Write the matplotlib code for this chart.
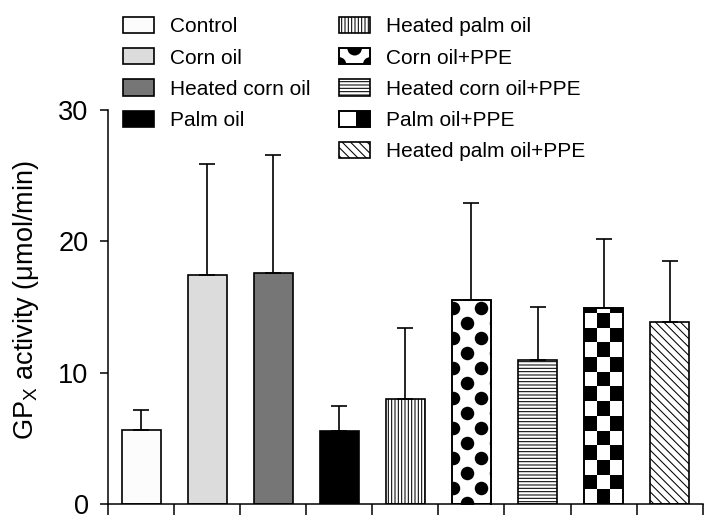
import numpy as np
import matplotlib
matplotlib.use("Agg")
import matplotlib.pyplot as plt
from matplotlib.patches import Rectangle, Circle
from matplotlib.legend_handler import HandlerPatch

plt.rcParams['font.family'] = ['Liberation Sans', 'DejaVu Sans']
plt.rcParams['mathtext.fontset'] = 'custom'
plt.rcParams['mathtext.rm'] = 'Liberation Sans'
plt.rcParams['mathtext.it'] = 'Liberation Sans:italic'
plt.rcParams['hatch.linewidth'] = 0.75

# ---------------- data ----------------
groups = ["Control", "Corn oil", "Heated corn oil", "Palm oil", "Heated palm oil",
          "Corn oil+PPE", "Heated corn oil+PPE", "Palm oil+PPE", "Heated palm oil+PPE"]
means = [5.64, 17.44, 17.57, 5.56, 7.97, 15.55, 10.94, 14.95, 13.84]
errors = [1.52, 8.46, 9.03, 1.93, 5.46, 7.35, 4.06, 5.21, 4.69]
y_ticks = [0, 10, 20, 30]

# ---------------- styles ----------------
face = ['#fcfcfc', '#dcdcdc', '#767676', '#000000', 'white', 'white', 'white', 'white', 'white']
hatches = [None, None, None, None, '|||||', None, '-----', None, '\\\\\\\\']
special = [None, None, None, None, None, 'dots', None, 'checker', None]

fig = plt.figure(figsize=(7.19, 5.30), dpi=100)
ax = fig.add_axes([108/719, 26/530, 594.7/719, 394/530])

x = np.arange(len(groups))
bw = 0.59
bars = ax.bar(x, means, width=bw, color=face, edgecolor='black', linewidth=1.2,
              yerr=[np.zeros(len(errors)), errors], capsize=5.5,
              error_kw=dict(elinewidth=1.2, capthick=1.2, ecolor='black'), zorder=2)
for b, h in zip(bars, hatches):
    if h:
        b.set_hatch(h)

ax.set_xlim(-0.5, len(groups) - 0.5)
ax.set_ylim(0, 30)

# pixel -> data conversion helpers
px_x = 594.7 / len(groups)   # pixels per x unit
px_y = 394 / 30.0            # pixels per y unit

for b, sp in zip(bars, special):
    if sp is None:
        continue
    x0 = b.get_x(); w = b.get_width(); h = b.get_height()
    if sp == 'dots':
        row_h = 15 / px_y
        per = 28.6 / px_x
        xs, ys = [], []
        k = 0
        yy = 1.0 / px_y
        while yy < h + row_h:
            off = 15 / px_x if k % 2 == 0 else 0.7 / px_x
            xx = x0 + off
            while xx < x0 + w + per:
                xs.append(xx); ys.append(yy)
                xx += per
            yy += row_h
            k += 1
        sc = ax.scatter(xs, ys, s=(13.5 * 0.72) ** 2, c='black', marker='o',
                        linewidths=0, zorder=2.5)
        sc.set_clip_path(b)
    elif sp == 'checker':
        cw = w / 3
        ch = 14.7 / px_y
        nrows = int(np.ceil(h / ch))
        for r in range(nrows):
            for c in range(3):
                if (r + c) % 2 == 1:
                    rect = Rectangle((x0 + c * cw, r * ch), cw, ch, facecolor='black',
                                     edgecolor='none', zorder=2.5)
                    ax.add_patch(rect)
                    rect.set_clip_path(b)
    # redraw outline on top
    ax.add_patch(Rectangle((x0, 0), w, h, facecolor='none', edgecolor='black',
                           linewidth=1.2, zorder=2.6))

# axes styling
for s in ['top', 'right']:
    ax.spines[s].set_visible(False)
for s in ['left', 'bottom']:
    ax.spines[s].set_linewidth(1.1)
ax.set_yticks(y_ticks)
ax.tick_params(axis='y', direction='out', length=6, width=1.1, pad=8, labelsize=19.5)
ax.set_xticks(np.arange(-0.5, len(groups), 1.0))
ax.tick_params(axis='x', direction='out', length=8, width=1.1, labelbottom=False)
ax.set_ylabel('GP$_{\\mathrm{X}}$ activity (\u03bcmol/min)', fontsize=19.5)
ax.yaxis.set_label_coords(-0.112, 0.518)


# ---------------- legend handlers ----------------
class DotHandler(HandlerPatch):
    def legend_artist(self, legend, orig_handle, fontsize, handlebox):
        x0, y0 = -handlebox.xdescent, -handlebox.ydescent
        w, h = handlebox.width, handlebox.height
        tr = handlebox.get_transform()
        rect = Rectangle((x0, y0), w, h, facecolor='white', edgecolor='black',
                         linewidth=1.2, transform=tr)
        handlebox.add_artist(rect)
        r = h * 0.45
        for cx, cy in [(x0 + w / 2, y0 + h), (x0, y0), (x0 + w, y0)]:
            c = Circle((cx, cy), r, facecolor='black', edgecolor='none', transform=tr)
            c.set_clip_path(rect)
            handlebox.add_artist(c)
        edge = Rectangle((x0, y0), w, h, facecolor='none', edgecolor='black',
                         linewidth=1.2, transform=tr)
        handlebox.add_artist(edge)
        return rect


class CheckerHandler(HandlerPatch):
    def legend_artist(self, legend, orig_handle, fontsize, handlebox):
        x0, y0 = -handlebox.xdescent, -handlebox.ydescent
        w, h = handlebox.width, handlebox.height
        tr = handlebox.get_transform()
        rect = Rectangle((x0, y0), w, h, facecolor='white', edgecolor='black',
                         linewidth=1.2, transform=tr)
        handlebox.add_artist(rect)
        blk = Rectangle((x0 + w * 0.55, y0), w * 0.45, h, facecolor='black',
                        edgecolor='none', transform=tr)
        handlebox.add_artist(blk)
        edge = Rectangle((x0, y0), w, h, facecolor='none', edgecolor='black',
                         linewidth=1.2, transform=tr)
        handlebox.add_artist(edge)
        return rect


handles = []
for i in range(len(groups)):
    p = Rectangle((0, 0), 1, 1, facecolor=face[i], edgecolor='black', linewidth=1.2,
                  hatch=hatches[i])
    handles.append(p)

hmap = {handles[5]: DotHandler(), handles[7]: CheckerHandler()}
leg_kw = dict(frameon=False, fontsize=15, handlelength=1.5, handleheight=0.82,
              handletextpad=0.75, labelspacing=0.57, borderpad=0, borderaxespad=0,
              loc='upper left', bbox_transform=fig.transFigure, handler_map=hmap)
leg1 = ax.legend(handles[:4], groups[:4], bbox_to_anchor=(123/719, 1 - 17/530), **leg_kw)
ax.add_artist(leg1)
leg2 = ax.legend(handles[4:], groups[4:], bbox_to_anchor=(339/719, 1 - 17/530), **leg_kw)

fig.savefig('out.png', dpi=100)
